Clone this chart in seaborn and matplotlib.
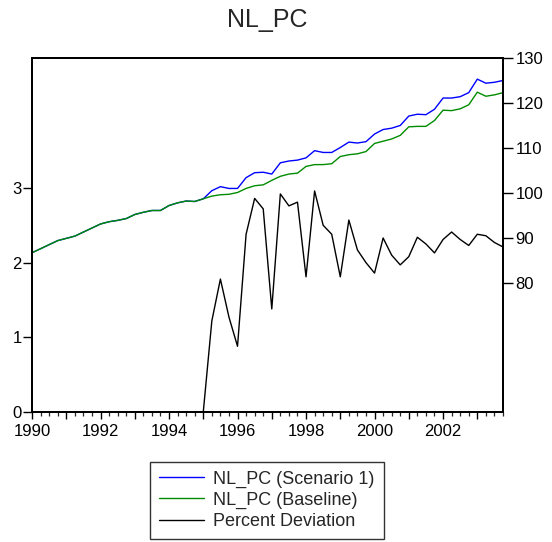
import numpy as np
import seaborn as sns
import matplotlib
matplotlib.use("Agg")
import matplotlib.pyplot as plt
from matplotlib.ticker import MultipleLocator, FuncFormatter
from matplotlib.lines import Line2D

# quarterly observations 1990Q1 - 2003Q4
quarters = np.arange(1990, 2004, 0.25)

baseline = [
    86.7, 87.6, 88.5, 89.4,
    89.9, 90.4, 91.3, 92.2,
    93.1, 93.6, 93.9, 94.3,
    95.2, 95.7, 96.1, 96.1,
    97.2, 97.8, 98.2, 98.1,
    98.7, 99.3, 99.6, 99.7,
    100.1, 101.0, 101.6, 101.8,
    102.8, 103.7, 104.2, 104.4,
    105.9, 106.3, 106.3, 106.5,
    108.1, 108.5, 108.7, 109.2,
    111.0, 111.5, 112.0, 112.8,
    114.7, 114.8, 114.8, 116.1,
    118.4, 118.3, 118.7, 119.6,
    122.4, 121.5, 121.8, 122.3,
]

scenario1 = [
    86.7, 87.6, 88.5, 89.4,
    89.9, 90.4, 91.3, 92.2,
    93.1, 93.6, 93.9, 94.3,
    95.2, 95.7, 96.1, 96.1,
    97.2, 97.8, 98.2, 98.1,
    98.7, 100.5, 101.4, 101.0,
    101.0, 103.4, 104.5, 104.6,
    104.2, 106.7, 107.1, 107.3,
    107.8, 109.4, 109.0, 109.0,
    110.1, 111.3, 111.1, 111.4,
    113.1, 114.1, 114.4, 115.0,
    117.1, 117.5, 117.4, 118.6,
    121.1, 121.1, 121.4, 122.3,
    125.3, 124.4, 124.6, 125.0,
]

pct_dev = [
    0, 0, 0, 0,
    0, 0, 0, 0,
    0, 0, 0, 0,
    0, 0, 0, 0,
    0, 0, 0, 0,
    0, 1.22, 1.78, 1.27,
    0.88, 2.38, 2.86, 2.72,
    1.38, 2.92, 2.76, 2.81,
    1.81, 2.96, 2.50, 2.38,
    1.81, 2.57, 2.17, 2.00,
    1.86, 2.33, 2.10, 1.97,
    2.08, 2.34, 2.25, 2.13,
    2.31, 2.41, 2.31, 2.23,
    2.38, 2.36, 2.27, 2.21,
]

labels = ["NL_PC (Scenario 1)", "NL_PC (Baseline)", "Percent Deviation"]
colors = ["#0000ff", "#008c00", "black"]

sns.set_style("ticks")
plt.rcParams["font.family"] = ["Liberation Sans", "DejaVu Sans"]

fig = plt.figure(figsize=(5.52, 5.42), dpi=100)
ax = fig.add_axes([32 / 552, 1 - 412 / 542, 471 / 552, 354 / 542])
ax2 = ax.twinx()

sns.lineplot(x=quarters, y=pct_dev, ax=ax, color=colors[2], linewidth=1.0)
sns.lineplot(x=quarters, y=scenario1, ax=ax2, color=colors[0], linewidth=1.0)
sns.lineplot(x=quarters, y=baseline, ax=ax2, color=colors[1], linewidth=1.0)

ax.set_xlim(1990, 2003.75)
ax.set_ylim(0, 4.74)
ax2.set_ylim(51.3, 130)
ax.set_yticks([0, 1, 2, 3])
ax2.set_yticks([80, 90, 100, 110, 120, 130])

ax.xaxis.set_major_locator(MultipleLocator(1))
ax.xaxis.set_minor_locator(MultipleLocator(0.25))
ax.xaxis.set_major_formatter(FuncFormatter(lambda v, p: f"{int(round(v))}" if int(round(v)) % 2 == 0 else ""))

for a in (ax, ax2):
    for s in a.spines.values():
        s.set_visible(True)
        s.set_linewidth(1.4)
        s.set_color("black")
    a.set_xlabel("")
    a.set_ylabel("")
    a.tick_params(labelsize=12, colors="black", width=1.0, direction="out")

ax.tick_params(axis="x", which="major", length=5, pad=4)
ax.tick_params(axis="x", which="minor", length=3, width=0.9)
ax.tick_params(axis="y", length=6.5, pad=1)
ax2.tick_params(axis="y", length=7, pad=2)

fig.text(267.5 / 552, 1 - 20 / 542, "NL_PC", ha="center", va="center", fontsize=18)

handles = [Line2D([], [], color=c, linewidth=1.0) for c in colors]
leg = fig.legend(handles, labels, loc="lower center",
                 bbox_to_anchor=(267 / 552, 3 / 542), fontsize=13,
                 frameon=True, fancybox=False, edgecolor="black",
                 handlelength=2.5, handletextpad=0.5, labelspacing=0.22,
                 borderpad=0.5, borderaxespad=0)
leg.get_frame().set_linewidth(1.0)

fig.savefig("out.png", dpi=100)
